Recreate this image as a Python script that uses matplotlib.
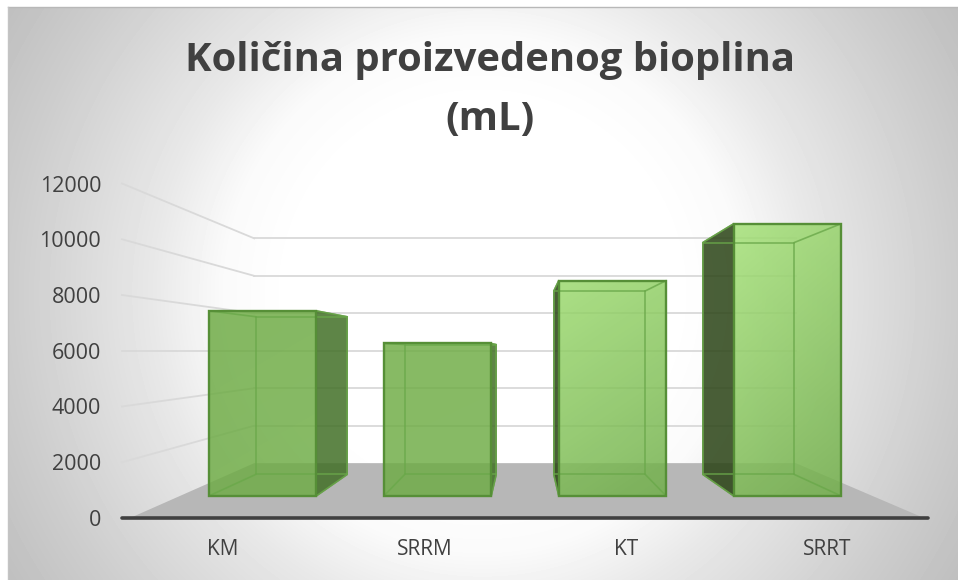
import numpy as np
import matplotlib
matplotlib.use('Agg')
import matplotlib.pyplot as plt
from matplotlib.patches import Polygon

categories = ['KM', 'SRRM', 'KT', 'SRRT']
values = [7650, 6300, 8900, 11250]
y_ticks = [0, 2000, 4000, 6000, 8000, 10000, 12000]
# lit corner and dark corner of each bar's gradient
bar_light = ['#6caa42', '#6eac44', '#9ad96c', '#a2e074']
bar_dark = ['#6fad46', '#6fad46', '#6fae48', '#70ae48']
side_colors = ['#427027', '#427027', '#2a4315', '#2a4315']

W, H = 958, 580
PX_PER_CAT = 201.5
PX_PER_VAL = 0.027875
X0, Y0 = 122, 518

# perspective: depth factors, everything shrinks towards cat 2 / value 6000
S_WALL = 0.672
S_BAR_FRONT = 0.868
S_BAR_BACK = 0.7395
BAR_W = 0.614


def project(cat, val, s):
    return 2 + (cat - 2) * s, 6000 + (val - 6000) * s


def box_face(c0, c1, v0, v1, s0, s1):
    return [project(c0, v0, s0), project(c1, v0, s1), project(c1, v1, s1), project(c0, v1, s0)]


fig = plt.figure(figsize=(W / 100, H / 100), dpi=100, facecolor='white')

# background radial gradient
bg = fig.add_axes([8 / W, 0, 1 - 8 / W, 1 - 7 / H])
yy, xx = np.mgrid[7:H, 8:W]
r = np.hypot(xx - 482, yy - 293)
shade = np.interp(r, [190, 260, 330, 470, 560], [255, 250, 232, 205, 190]) / 255
bg.imshow(shade, cmap='gray', vmin=0, vmax=1, aspect='auto')
bg.axis('off')
fig.add_artist(plt.Line2D([8 / W, 1], [1 - 7 / H] * 2, color='#b8b8b8', lw=1))
fig.add_artist(plt.Line2D([8 / W, 8 / W], [0, 1 - 7 / H], color='#c4c4c4', lw=1))

ax = fig.add_axes([0, 0, 1, 1])
ax.patch.set_alpha(0)
xlim = (-X0 / PX_PER_CAT, (W - X0) / PX_PER_CAT)
ylim = ((Y0 - H) / PX_PER_VAL, Y0 / PX_PER_VAL)

# floor
ax.add_patch(Polygon([(0.04, 0), (4 - 0.02, 0), project(4, 0, S_WALL), project(0, 0, S_WALL)],
                     closed=True, fc='#b7b7b7', ec='none', zorder=1))

# grid on back wall and left wall
for v in y_ticks[1:]:
    bx0, by0 = project(0, v, S_WALL)
    bx1, by1 = project(4, v, S_WALL)
    ax.plot([bx0, bx1], [by0, by1], color='#d9d9d9', lw=1.3, zorder=2)
    ax.plot([0, bx0], [v, by0], color='#d9d9d9', lw=1.3, zorder=2)

# bars
for i, val in enumerate(values):
    c0 = i + 0.5 - BAR_W / 2
    c1 = i + 0.5 + BAR_W / 2
    z = 3 + i * 0.1
    inner = '#6aa84a'
    outer = '#568f37'

    left = box_face(c0, c0, 0, val, S_BAR_FRONT, S_BAR_BACK)
    right = box_face(c1, c1, 0, val, S_BAR_FRONT, S_BAR_BACK)

    # outer side face shows dark on the side away from the centre of view
    side = right if c1 <= 2 else left
    ax.add_patch(Polygon(side, closed=True, fc=side_colors[i], ec='#4f7f33', lw=1, alpha=0.85, zorder=z))

    bl = project(c0, 0, S_BAR_BACK)
    br = project(c1, 0, S_BAR_BACK)
    tl = project(c0, val, S_BAR_BACK)
    tr = project(c1, val, S_BAR_BACK)
    fbl = project(c0, 0, S_BAR_FRONT)
    fbr = project(c1, 0, S_BAR_FRONT)
    ftl = project(c0, val, S_BAR_FRONT)
    ftr = project(c1, val, S_BAR_FRONT)

    # front face with gradient, diagonal from light top left to darker bottom right
    n = 64
    gx, gy = np.meshgrid(np.linspace(0, 1, n), np.linspace(0, 1, n))
    t = np.clip(0.75 * gy + 0.25 * gx, 0, 1)[..., None]
    light = np.array(matplotlib.colors.to_rgb(bar_light[i]))
    dark = np.array(matplotlib.colors.to_rgb(bar_dark[i]))
    img = np.dstack([light * (1 - t) + dark * t, np.full((n, n), 0.83)])
    im = ax.imshow(img, extent=(ftl[0], ftr[0], fbl[1], ftl[1]), origin='upper', aspect='auto',
                   zorder=z + 0.01, interpolation='bilinear')
    front = Polygon([fbl, fbr, ftr, ftl], closed=True, fc='none', ec=outer, lw=1.7, zorder=z + 0.04)
    ax.add_patch(front)
    im.set_clip_path(front)

    # see-through edges of the box
    for a, b in [(bl, br), (br, tr), (tr, tl), (tl, bl), (bl, fbl), (br, fbr), (tl, ftl), (tr, ftr)]:
        ax.plot([a[0], b[0]], [a[1], b[1]], color=inner, lw=1.2, alpha=0.8, zorder=z + 0.02,
                solid_capstyle='round')

ax.set_xlim(xlim)
ax.set_ylim(ylim)

# axes
for name in ['top', 'right', 'left']:
    ax.spines[name].set_visible(False)
ax.spines['bottom'].set_position(('data', 0))
ax.spines['bottom'].set_bounds(0, 4)
ax.spines['bottom'].set_color('#404040')
ax.spines['bottom'].set_linewidth(2.6)
ax.spines['bottom'].set_capstyle('round')
ax.spines['bottom'].set_zorder(6)
ax.spines['left'].set_position(('data', 0))

ax.set_yticks(y_ticks)
ax.set_xticks(np.arange(len(categories)) + 0.5)
ax.set_xticklabels(categories)
ax.tick_params(axis='y', length=0, pad=15, labelsize=15.5, labelcolor='#404040')
ax.tick_params(axis='x', length=0, pad=15, labelsize=15, labelcolor='#404040')
for lab in ax.get_xticklabels() + ax.get_yticklabels():
    lab.set_family('Open Sans')

fig.text(490 / W, 1 - 60 / H, 'Količina proizvedenog bioplina', family='Open Sans', weight='bold',
         fontsize=28.8, color='#404040', ha='center', va='center')
fig.text(490 / W, 1 - 120 / H, '(mL)', family='Open Sans', weight='bold',
         fontsize=28.8, color='#404040', ha='center', va='center')

fig.savefig('out.png', dpi=100)
